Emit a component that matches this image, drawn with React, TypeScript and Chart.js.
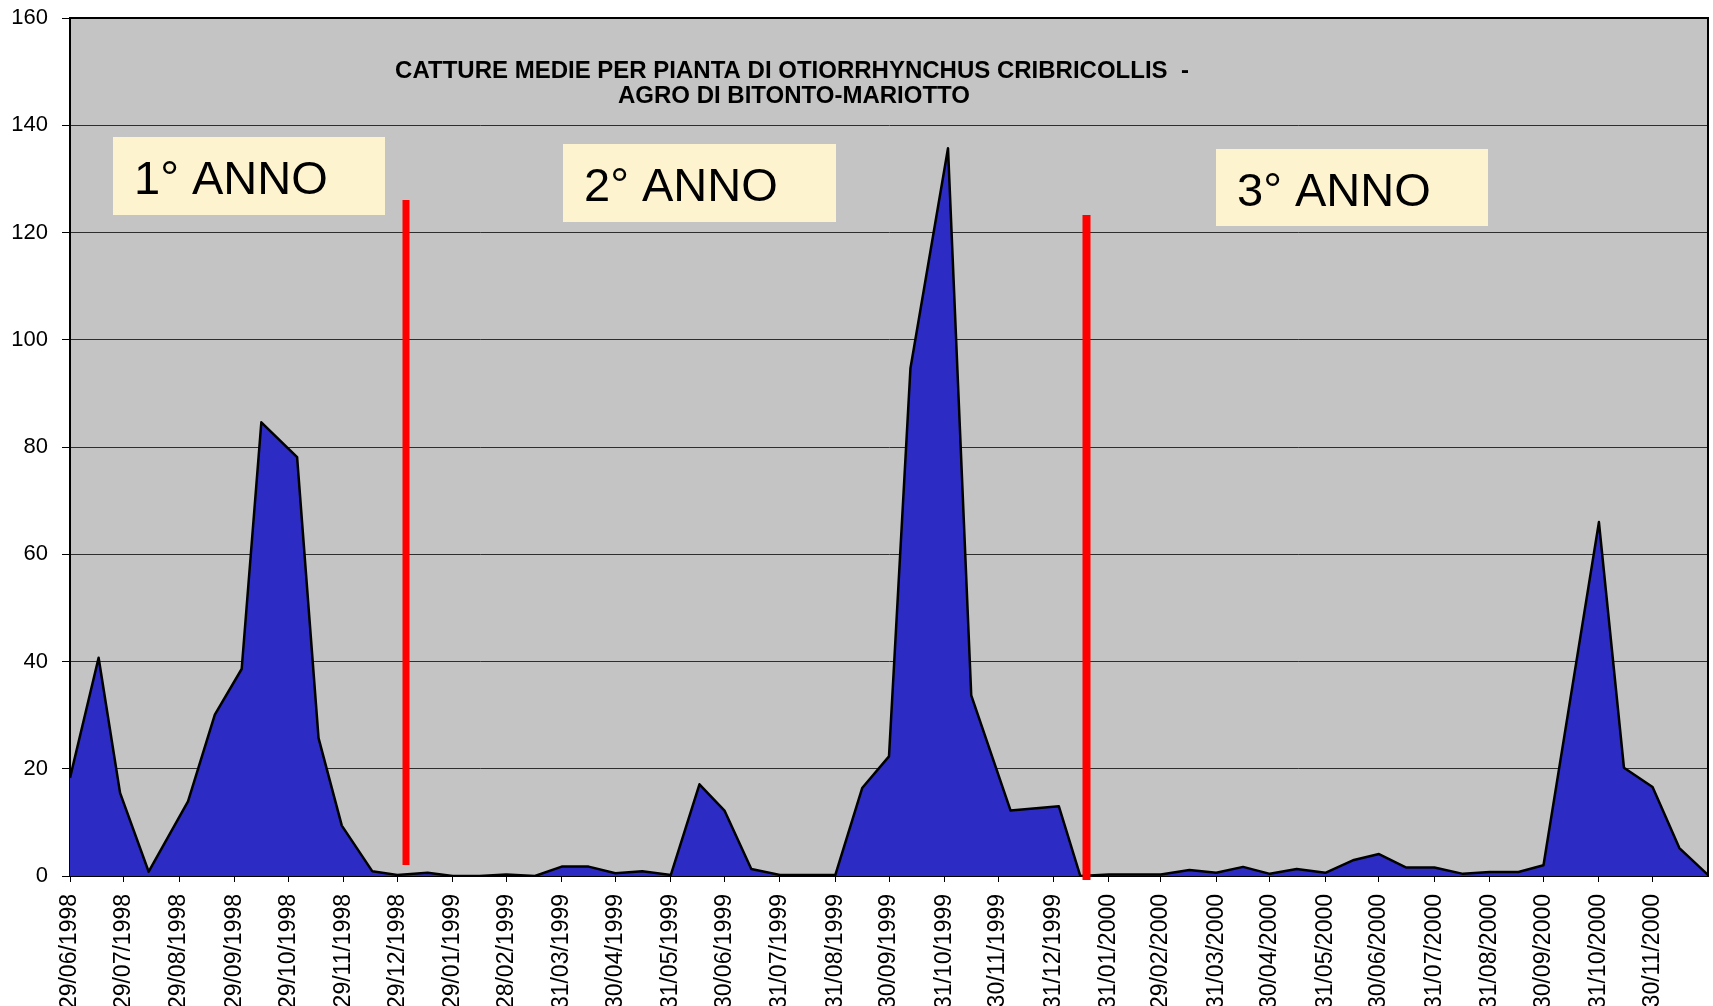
import React, { useEffect, useRef } from 'react';
import { Chart, registerables } from 'chart.js';

Chart.register(...registerables);

// ---- data ----
const sampleDates: string[] = [
  '29/06/1998', '15/07/1998', '27/07/1998', '12/08/1998', '03/09/1998', '18/09/1998',
  '03/10/1998', '14/10/1998', '03/11/1998', '15/11/1998', '28/11/1998', '15/12/1998',
  '29/12/1998', '15/01/1999', '29/01/1999', '13/02/1999', '28/02/1999', '16/03/1999',
  '31/03/1999', '15/04/1999', '30/04/1999', '15/05/1999', '31/05/1999', '16/06/1999',
  '30/06/1999', '15/07/1999', '31/07/1999', '15/08/1999', '31/08/1999', '15/09/1999',
  '30/09/1999', '12/10/1999', '02/11/1999', '15/11/1999', '07/12/1999', '03/01/2000',
  '15/01/2000', '31/01/2000', '15/02/2000', '29/02/2000', '16/03/2000', '31/03/2000',
  '15/04/2000', '30/04/2000', '15/05/2000', '31/05/2000', '16/06/2000', '30/06/2000',
  '15/07/2000', '31/07/2000', '16/08/2000', '31/08/2000', '16/09/2000', '30/09/2000',
  '31/10/2000', '14/11/2000', '30/11/2000', '15/12/2000', '31/12/2000',
];

const catture: number[] = [
  18.3, 40.7, 15.5, 0.8, 13.9, 30.1,
  38.6, 84.6, 78.1, 25.7, 9.4, 0.9,
  0.2, 0.6, 0, 0, 0.3, 0,
  1.75, 1.75, 0.5, 0.9, 0.2, 17.1,
  12.2, 1.3, 0.2, 0.2, 0.2, 16.4,
  22.3, 94.7, 135.7, 33.7, 12.2, 13,
  0, 0.3, 0.3, 0.3, 1.1, 0.6,
  1.7, 0.4, 1.3, 0.6, 3, 4.1,
  1.6, 1.6, 0.4, 0.75, 0.75, 2,
  66, 20.2, 16.6, 5.2, 0.2,
];

const tickDates: string[] = [
  '29/06/1998', '29/07/1998', '29/08/1998', '29/09/1998', '29/10/1998', '29/11/1998',
  '29/12/1998', '29/01/1999', '28/02/1999', '31/03/1999', '30/04/1999', '31/05/1999',
  '30/06/1999', '31/07/1999', '31/08/1999', '30/09/1999', '31/10/1999', '30/11/1999',
  '31/12/1999', '31/01/2000', '29/02/2000', '31/03/2000', '30/04/2000', '31/05/2000',
  '30/06/2000', '31/07/2000', '31/08/2000', '30/09/2000', '31/10/2000', '30/11/2000',
];

const axisStart = '29/06/1998';
const axisEnd = '31/12/2000';
const yMin = 0;
const yMax = 160;
const yStep = 20;

const titleLines: string[] = [
  'CATTURE MEDIE PER PIANTA DI OTIORRHYNCHUS CRIBRICOLLIS  -',
  'AGRO DI BITONTO-MARIOTTO',
];
const yearLabels: string[] = ['1° ANNO', '2° ANNO', '3° ANNO'];

// ---- helpers ----
function parseDay(s: string): number {
  const [d, m, y] = s.split('/').map(Number);
  return Date.UTC(y, m - 1, d) / 86400000;
}
const baseDay = parseDay(axisStart);
const dayOf = (s: string) => parseDay(s) - baseDay;

const points = sampleDates.map((d, i) => ({ x: dayOf(d), y: catture[i] }));
const tickMap = new Map<number, string>(tickDates.map((d) => [dayOf(d), d]));

// ---- annotation layout (pixels) ----
const boxes = [
  { x: 113, y: 137, w: 272, h: 78 },
  { x: 563, y: 144, w: 273, h: 78 },
  { x: 1216, y: 149, w: 272, h: 77 },
];
const separators = [
  { x: 406, top: 200, bottom: 865, w: 7 },
  { x: 1086.5, top: 215, bottom: 880, w: 8 },
];

const zeroPadding = (scale: any) => {
  scale.paddingTop = 0;
  scale.paddingBottom = 0;
  scale.paddingLeft = 0;
  scale.paddingRight = 0;
};

const decorPlugin = {
  id: 'decor',
  beforeDraw(chart: any) {
    const { ctx, chartArea: a } = chart;
    ctx.save();
    ctx.fillStyle = '#c4c4c4';
    ctx.fillRect(a.left, a.top, a.right - a.left, a.bottom - a.top);
    ctx.restore();
  },
  afterDraw(chart: any) {
    const { ctx, chartArea: a } = chart;
    ctx.save();
    // plot border right/top
    ctx.strokeStyle = '#000';
    ctx.lineWidth = 2;
    ctx.beginPath();
    ctx.moveTo(a.left, a.top);
    ctx.lineTo(a.right, a.top);
    ctx.lineTo(a.right, a.bottom);
    ctx.stroke();

    // title
    ctx.fillStyle = '#000';
    ctx.font = 'bold 24px "Liberation Sans", Arial, sans-serif';
    ctx.textAlign = 'center';
    ctx.textBaseline = 'alphabetic';
    ctx.fillText(titleLines[0], 792, 78);
    ctx.fillText(titleLines[1], 794, 103);

    // year boxes
    boxes.forEach((b, i) => {
      ctx.fillStyle = '#fdf4cf';
      ctx.fillRect(b.x, b.y, b.w, b.h);
      ctx.fillStyle = '#000';
      ctx.font = '47px "Liberation Sans", Arial, sans-serif';
      ctx.textAlign = 'left';
      ctx.fillText(yearLabels[i], b.x + 21, b.y + 57);
    });

    // red separators
    separators.forEach((s) => {
      ctx.fillStyle = '#ff0000';
      ctx.fillRect(s.x - s.w / 2, s.top, s.w, s.bottom - s.top);
    });
    ctx.restore();
  },
};

export default function App() {
  const canvasRef = useRef<HTMLCanvasElement | null>(null);

  useEffect(() => {
    if (!canvasRef.current) return;
    const chart = new Chart(canvasRef.current, {
      type: 'line',
      data: {
        datasets: [
          {
            data: points,
            fill: 'origin',
            backgroundColor: '#2c2cc4',
            borderColor: '#000',
            borderWidth: 2.5,
            borderJoinStyle: 'round',
            pointRadius: 0,
            tension: 0,
          },
        ],
      },
      options: {
        animation: false,
        responsive: false,
        maintainAspectRatio: false,
        layout: { padding: { top: 18, right: 5, left: 0, bottom: 0 } },
        plugins: {
          legend: { display: false },
          tooltip: { enabled: false },
          title: { display: false },
        },
        scales: {
          x: {
            type: 'linear',
            min: dayOf(axisStart),
            max: dayOf(axisEnd),
            afterBuildTicks: (scale: any) => {
              scale.ticks = tickDates.map((d) => ({ value: dayOf(d) }));
            },
            afterFit: (scale: any) => {
              scale.height = 130;
              zeroPadding(scale);
            },
            ticks: {
              autoSkip: false,
              minRotation: 90,
              maxRotation: 90,
              padding: 12,
              color: '#000',
              font: { family: '"Liberation Sans", Arial, sans-serif', size: 23 },
              callback: (value: any) => tickMap.get(Number(value)) ?? '',
            },
            grid: {
              drawOnChartArea: false,
              drawTicks: true,
              tickLength: 6,
              tickColor: '#000',
              lineWidth: 1,
            },
            border: { display: true, color: '#000', width: 2 },
          },
          y: {
            min: yMin,
            max: yMax,
            afterFit: (scale: any) => {
              scale.width = 70;
              zeroPadding(scale);
            },
            ticks: {
              stepSize: yStep,
              padding: 14,
              color: '#000',
              font: { family: '"Liberation Sans", Arial, sans-serif', size: 22 },
            },
            grid: {
              color: '#2e2e2e',
              lineWidth: 1,
              tickLength: 8,
              tickColor: '#000',
            },
            border: { display: true, color: '#000', width: 2 },
          },
        },
      },
      plugins: [decorPlugin],
    } as any);
    return () => chart.destroy();
  }, []);

  return (
    <div style={{ position: 'absolute', left: 0, top: 0, width: 1713, height: 1006, background: '#fff' }}>
      <canvas ref={canvasRef} width={1713} height={1006} style={{ display: 'block' }} />
    </div>
  );
}
